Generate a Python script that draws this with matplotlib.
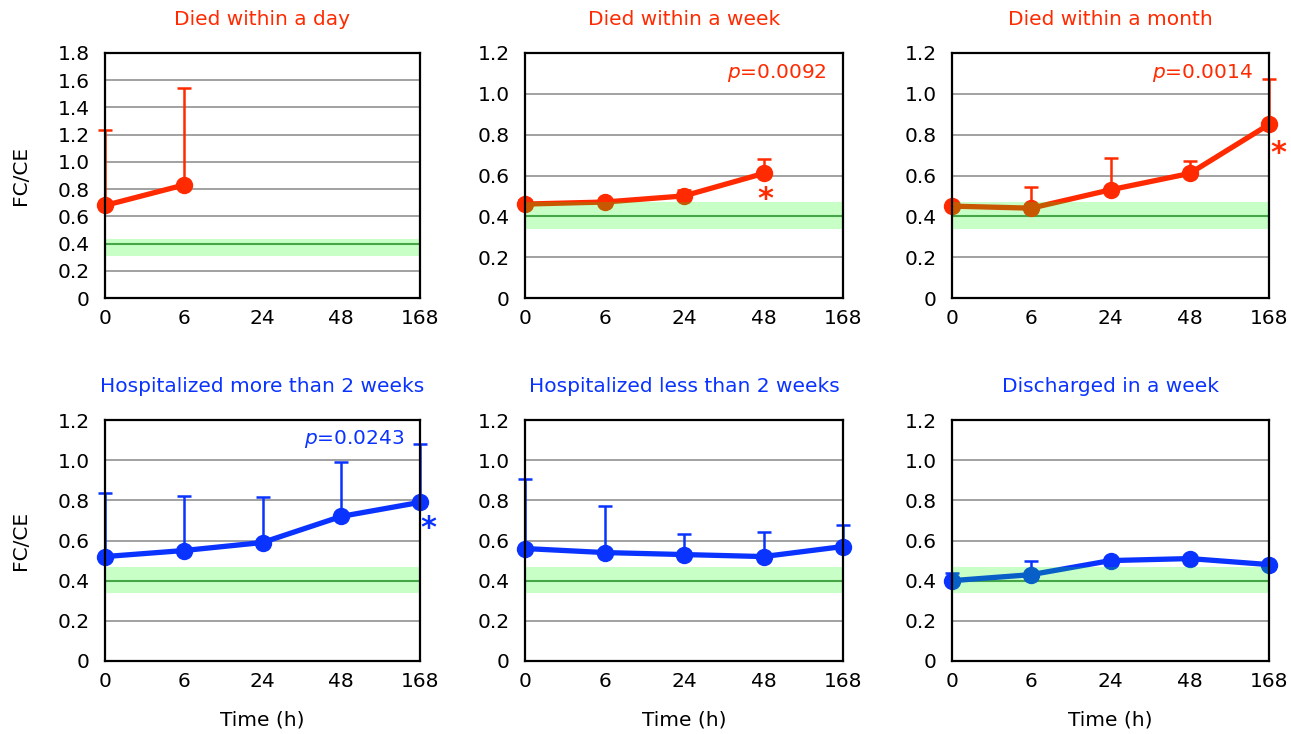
import numpy as np
import matplotlib.pyplot as plt

# time points (h), shown as evenly spaced categories
times = ["0", "6", "24", "48", "168"]

titles = [
    "Died within a day", "Died within a week", "Died within a month",
    "Hospitalized more than 2 weeks", "Hospitalized less than 2 weeks", "Discharged in a week",
]

# FC/CE means and the top of each error bar
day_mean = [0.68, 0.83]
day_upper = [1.237, 1.545]
week_mean = [0.46, 0.47, 0.50, 0.61]
week_upper = [0.48, 0.48, 0.53, 0.68]
month_mean = [0.45, 0.44, 0.53, 0.61, 0.85]
month_upper = [0.46, 0.546, 0.688, 0.671, 1.071]
hosp_long_mean = [0.52, 0.55, 0.59, 0.72, 0.79]
hosp_long_upper = [0.839, 0.823, 0.818, 0.989, 1.08]
hosp_short_mean = [0.56, 0.54, 0.53, 0.52, 0.57]
hosp_short_upper = [0.907, 0.771, 0.63, 0.64, 0.676]
disch_mean = [0.40, 0.43, 0.50, 0.51, 0.48]
disch_upper = [0.436, 0.497, 0.50, 0.51, 0.48]

p_values = ["0.0092", "0.0014", "0.0243"]

# normal range (shaded) and reference line
ref_value = 0.4
band_day = (0.31, 0.43)
band_other = (0.34, 0.47)

RED = "#ff2a00"
BLUE = "#0a33ff"

panels = [
    dict(mean=day_mean, upper=day_upper, color=RED, ymax=1.8, band=band_day, p=None, star=False),
    dict(mean=week_mean, upper=week_upper, color=RED, ymax=1.2, band=band_other, p=p_values[0], star=True, star_off=(1, -19)),
    dict(mean=month_mean, upper=month_upper, color=RED, ymax=1.2, band=band_other, p=p_values[1], star=True, star_off=(7, -21)),
    dict(mean=hosp_long_mean, upper=hosp_long_upper, color=BLUE, ymax=1.2, band=band_other, p=p_values[2], star=True, star_off=(6, -19)),
    dict(mean=hosp_short_mean, upper=hosp_short_upper, color=BLUE, ymax=1.2, band=band_other, p=None, star=False),
    dict(mean=disch_mean, upper=disch_upper, color=BLUE, ymax=1.2, band=band_other, p=None, star=False),
]

W, H = 1291, 734
fig = plt.figure(figsize=(W / 100, H / 100), dpi=100)
plt.rcParams["font.family"] = "DejaVu Sans"
FS = 14.5

lefts = [105, 525, 952]
widths = [315, 318, 317]
rows = [(53, 298), (420, 661)]

for i, cfg in enumerate(panels):
    r, c = divmod(i, 3)
    top, bot = rows[r]
    ax = fig.add_axes([lefts[c] / W, (H - bot) / H, widths[c] / W, (bot - top) / H])

    n = len(cfg["mean"])
    x = np.arange(n)
    mean = np.array(cfg["mean"])
    upper = np.array(cfg["upper"])

    ticks = np.round(np.arange(0, cfg["ymax"] + 0.001, 0.2), 1)
    for t in ticks[1:-1]:
        if abs(t - ref_value) > 1e-6:
            ax.axhline(t, color="#9a9a9a", lw=1.3, zorder=1)
    ax.axhline(ref_value, color="#5a8c5a", lw=1.5, zorder=1)

    eb = ax.errorbar(x, mean, yerr=[np.zeros(n), upper - mean], fmt="none",
                     ecolor=cfg["color"], elinewidth=1.8, capsize=5, capthick=1.8, zorder=3)
    for art in eb.lines[1] + eb.lines[2]:
        art.set_clip_on(False)
    ax.plot(x, mean, "-o", color=cfg["color"], lw=3.8, ms=11.5, zorder=4, clip_on=False)

    # translucent normal range drawn over the data
    ax.axhspan(*cfg["band"], color="#00ff00", alpha=0.22, lw=0, zorder=5)

    if cfg["p"]:
        ax.text(0.95, 0.92, r"$p$=" + cfg["p"], transform=ax.transAxes,
                ha="right", va="center", fontsize=FS, color=cfg["color"], zorder=6)
    if cfg["star"]:
        ax.annotate("*", (x[-1], mean[-1]), xytext=cfg["star_off"], textcoords="offset points",
                    ha="center", va="center", fontsize=22, fontweight="bold", color=cfg["color"],
                    annotation_clip=False, zorder=6)

    ax.set_xlim(0, 4)
    ax.set_ylim(0, cfg["ymax"])
    ax.set_xticks(np.arange(5))
    ax.set_xticklabels(times)
    ax.set_yticks(ticks)
    ax.set_yticklabels(["0"] + ["%.1f" % t for t in ticks[1:]])
    ax.tick_params(length=0, labelsize=FS, pad=8)
    ax.tick_params(axis="y", pad=11)
    for s in ax.spines.values():
        s.set_linewidth(1.6)
        s.set_color("black")
        s.set_zorder(7)

    ax.set_title(titles[i], color=cfg["color"], fontsize=FS, pad=20)
    if c == 0:
        ax.set_ylabel("FC/CE", fontsize=FS, labelpad=20)
    if r == 1:
        ax.set_xlabel("Time (h)", fontsize=FS, labelpad=14)

fig.savefig("out.png", dpi=100)
